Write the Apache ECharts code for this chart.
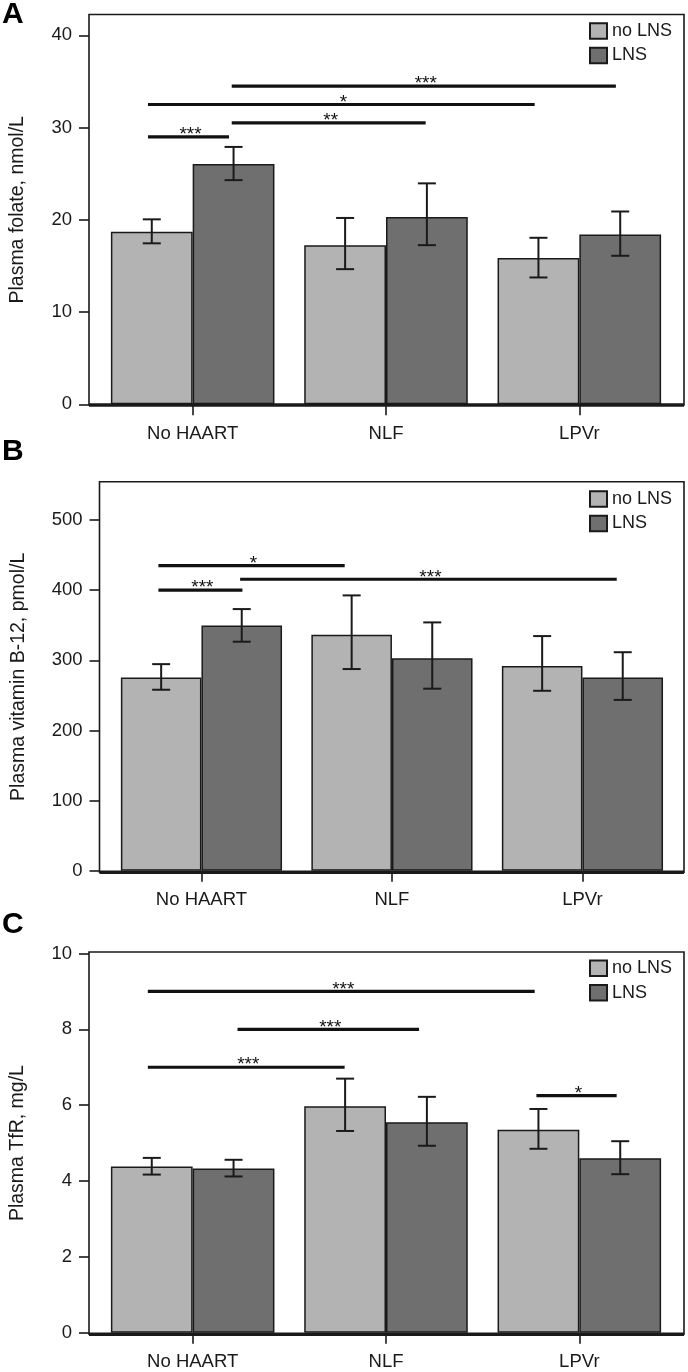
<!DOCTYPE html>
<html><head><meta charset="utf-8">
<script src="https://cdn.jsdelivr.net/npm/echarts@6/dist/echarts.min.js"></script>
<style>html,body{margin:0;padding:0;background:#fff}#c{width:688px;height:1372px}</style>
</head><body><div id="c"></div>
<script>
// ---------- data ----------
const categories = ['No HAART', 'NLF', 'LPVr'];
const seriesNames = ['no LNS', 'LNS'];

// Panel A: plasma folate, nmol/L
const folateNoLNS      = [18.7, 17.25, 15.85];
const folateNoLNSLow   = [17.45, 14.65, 13.75];
const folateNoLNSHigh  = [20.05, 20.2, 18.05];
const folateLNS        = [26.05, 20.3, 18.4];
const folateLNSLow     = [24.3, 17.25, 16.1];
const folateLNSHigh    = [27.9, 23.95, 20.9];
const folateTickMax    = 40;
const folateTickStep   = 10;
const folateSig        = [[-0.231, 0.188, 29.0], [0.202, 1.205, 30.5], [-0.231, 1.769, 32.5], [0.202, 2.189, 34.5]];
const folateSigLabels  = ['***', '**', '*', '***'];

// Panel B: plasma vitamin B-12, pmol/L
const b12NoLNS      = [275.5, 336.5, 292];
const b12NoLNSLow   = [258, 287.5, 256.5];
const b12NoLNSHigh  = [294.5, 392.5, 334.5];
const b12LNS        = [349.5, 303, 275.5];
const b12LNSLow     = [326.5, 259.5, 243.5];
const b12LNSHigh    = [373, 354, 311.5];
const b12TickMax    = 500;
const b12TickStep   = 100;
const b12Sig        = [[-0.226, 0.752, 435], [-0.226, 0.215, 400], [0.203, 2.18, 415.5]];
const b12SigLabels  = ['*', '***', '***'];

// Panel C: plasma TfR, mg/L
const tfrNoLNS      = [4.38, 5.97, 5.35];
const tfrNoLNSLow   = [4.17, 5.32, 4.85];
const tfrNoLNSHigh  = [4.61, 6.70, 5.90];
const tfrLNS        = [4.33, 5.55, 4.60];
const tfrLNSLow     = [4.12, 4.93, 4.18];
const tfrLNSHigh    = [4.56, 6.22, 5.05];
const tfrTickMax    = 10;
const tfrTickStep   = 2;
const tfrSig        = [[-0.232, 1.769, 9.0], [0.232, 1.171, 8.0], [-0.232, 0.786, 7.0], [1.778, 2.193, 6.25]];
const tfrSigLabels  = ['***', '***', '***', '*'];

// ---------- layout / style ----------
const FONT = '"Liberation Sans", Arial, Helvetica, sans-serif';
const INK = '#1a1a1a';
const LIGHT = '#b3b3b3';
const DARK = '#6f6f6f';
const BAR_W = 0.423;          // bar width as fraction of category band
const BAR_HALF = BAR_W / 2;

const panels = [
  { letter: 'A', letterY: 14.7, name: 'Plasma folate, nmol/L', nameGap: 61, offset: 7, nameShift: 20,
    grid: { left: 96, top: 35.3, width: 580, height: 369 }, max: folateTickMax, step: folateTickStep,
    frame: { x: 89, y: 14.5, w: 595, bottom: 405 }, legendTop: 22,
    vals: [folateNoLNS, folateLNS], lows: [folateNoLNSLow, folateLNSLow], highs: [folateNoLNSHigh, folateLNSHigh],
    sig: folateSig, sigLabels: folateSigLabels },
  { letter: 'B', letterY: 452, name: 'Plasma vitamin B-12, pmol/L', nameGap: 71, offset: 6.7, nameShift: 37,
    grid: { left: 106.2, top: 520, width: 571.5, height: 350.7 }, max: b12TickMax, step: b12TickStep,
    frame: { x: 99.5, y: 481.7, w: 584.5, bottom: 872.2 }, legendTop: 490,
    vals: [b12NoLNS, b12LNS], lows: [b12NoLNSLow, b12LNSLow], highs: [b12NoLNSHigh, b12LNSHigh],
    sig: b12Sig, sigLabels: b12SigLabels },
  { letter: 'C', letterY: 925, name: 'Plasma TfR, mg/L', nameGap: 61, offset: 7, nameShift: 0,
    grid: { left: 96, top: 953.5, width: 580, height: 379.2 }, max: tfrTickMax, step: tfrTickStep,
    frame: { x: 89, y: 952, w: 595, bottom: 1334.3 }, legendTop: 959.3,
    vals: [tfrNoLNS, tfrLNS], lows: [tfrNoLNSLow, tfrLNSLow], highs: [tfrNoLNSHigh, tfrLNSHigh],
    sig: tfrSig, sigLabels: tfrSigLabels }
];

const option = {
  animation: false,
  backgroundColor: '#fff',
  textStyle: { fontFamily: FONT },
  grid: [], xAxis: [], yAxis: [], series: [], legend: [], graphic: []
};

panels.forEach((p, k) => {
  option.grid.push(Object.assign({ containLabel: false }, p.grid));
  option.xAxis.push({
    type: 'category', gridIndex: k, data: categories, position: 'bottom',
    axisLine: { show: false, onZero: false },
    axisTick: { show: true, alignWithLabel: true, length: 11, lineStyle: { color: INK, width: 1.6 } },
    axisLabel: { fontSize: 18.5, color: INK, margin: 20, fontFamily: FONT },
    splitLine: { show: false }
  });
  option.xAxis.push({ type: 'value', gridIndex: k, min: -0.5, max: 2.5, show: false,
    axisLine: { onZero: false } });
  option.yAxis.push({
    type: 'value', gridIndex: k, min: 0, max: p.max, interval: p.step, offset: p.offset, position: 'left',
    name: p.name, nameLocation: 'middle', nameGap: p.nameGap, nameRotate: 90,
    nameTextStyle: { fontSize: 19.5, color: INK, fontFamily: FONT, padding: [0, 0, 0, p.nameShift] },
    axisLine: { show: false, onZero: false },
    axisTick: { show: true, length: 10, lineStyle: { color: INK, width: 1.6 } },
    axisLabel: { fontSize: 18.5, color: INK, margin: 17, fontFamily: FONT },
    splitLine: { show: false }
  });
  const catX = 2 * k, valX = 2 * k + 1;
  [0, 1].forEach(s => {
    option.series.push({
      type: 'bar', name: seriesNames[s], xAxisIndex: catX, yAxisIndex: k,
      data: p.vals[s], barWidth: (BAR_W * 100) + '%', barGap: '0%',
      itemStyle: { color: s === 0 ? LIGHT : DARK, borderColor: INK, borderWidth: 1.5 },
      z: 2
    });
  });
  const errData = [];
  [0, 1].forEach(s => {
    categories.forEach((c, i) => {
      errData.push([i + (s === 0 ? -BAR_HALF : BAR_HALF), p.lows[s][i], p.highs[s][i]]);
    });
  });
  option.series.push({
    type: 'custom', xAxisIndex: valX, yAxisIndex: k, z: 4, silent: true, clip: false,
    encode: { x: 0, y: [1, 2] }, data: errData,
    renderItem: (params, api) => {
      const lo = api.coord([api.value(0), api.value(1)]);
      const hi = api.coord([api.value(0), api.value(2)]);
      const w = 9;
      const st = { stroke: INK, lineWidth: 2 };
      return { type: 'group', children: [
        { type: 'line', shape: { x1: lo[0], y1: lo[1], x2: hi[0], y2: hi[1] }, style: st },
        { type: 'line', shape: { x1: lo[0] - w, y1: lo[1], x2: lo[0] + w, y2: lo[1] }, style: st },
        { type: 'line', shape: { x1: hi[0] - w, y1: hi[1], x2: hi[0] + w, y2: hi[1] }, style: st }
      ] };
    }
  });
  const labels = p.sigLabels;
  option.series.push({
    type: 'custom', xAxisIndex: valX, yAxisIndex: k, z: 5, silent: true, clip: false,
    encode: { x: [0, 1], y: 2 }, data: p.sig,
    renderItem: (params, api) => {
      const a = api.coord([api.value(0), api.value(2)]);
      const b = api.coord([api.value(1), api.value(2)]);
      return { type: 'group', children: [
        { type: 'line', shape: { x1: a[0], y1: a[1], x2: b[0], y2: b[1] }, style: { stroke: '#111', lineWidth: 3.2 } },
        { type: 'text', style: { text: labels[params.dataIndex], x: (a[0] + b[0]) / 2 + 2, y: a[1] - 2,
          align: 'center', verticalAlign: 'middle', fontSize: 19, fontFamily: FONT, fill: '#111' } }
      ] };
    }
  });
  option.legend.push({
    data: seriesNames, orient: 'vertical', left: 589, top: p.legendTop, padding: 0,
    itemWidth: 17, itemHeight: 15.5, itemGap: 6.5, icon: 'rect',
    textStyle: { fontSize: 18, color: INK, lineHeight: 16, fontFamily: FONT },
    selectedMode: false
  });
  const f = p.frame;
  option.graphic.push(
    { type: 'rect', silent: true, z: 100,
      shape: { x: f.x, y: f.y, width: f.w, height: f.bottom - f.y },
      style: { fill: 'none', stroke: INK, lineWidth: 1.6 } },
    { type: 'line', silent: true, z: 101,
      shape: { x1: f.x, y1: f.bottom, x2: f.x + f.w, y2: f.bottom },
      style: { stroke: INK, lineWidth: 3.4 } },
    { type: 'text', silent: true, z: 101,
      style: { text: p.letter, x: 2, y: p.letterY, verticalAlign: 'middle', align: 'left',
        fontSize: 30, fontWeight: 'bold', fontFamily: FONT, fill: '#000' } }
  );
});

const chart = echarts.init(document.getElementById('c'), null, { renderer: 'canvas' });
chart.setOption(option);
</script>
</body></html>
